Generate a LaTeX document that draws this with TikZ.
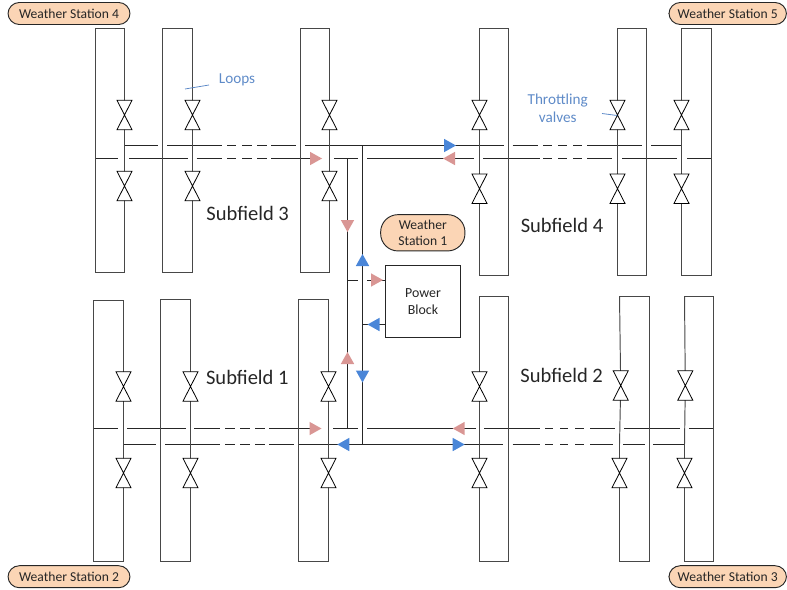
\documentclass[tikz,border=0pt]{standalone}
\usepackage{fontspec}
\setmainfont{Carlito}
\usetikzlibrary{positioning, calc}
\definecolor{hotRed}{HTML}{D99694}
\definecolor{coldBlue}{HTML}{4A86D8}
\definecolor{fPeach}{HTML}{FBD5B5}
\definecolor{noteBlue}{HTML}{5F8BC8}
\definecolor{bdr}{HTML}{262626}
\tikzset{
  pipe/.style={draw=bdr, line width=0.75pt},
  loopbox/.style={draw=bdr!85, line width=0.72pt, line join=miter},
  valve/.style={draw=black, line width=0.6pt, fill=white, line join=miter},
  flowHot/.style={fill=hotRed},
  flowCold/.style={fill=coldBlue},
  station/.style={draw=bdr, line width=0.7pt, fill=fPeach, rounded corners=8.5pt, font=\fontsize{10.2}{12}\selectfont, text=bdr, align=center, inner sep=0pt},
  field/.style={font=\fontsize{15.4}{17}\selectfont, text=bdr, inner sep=0pt},
  note/.style={font=\fontsize{11.4}{13.5}\selectfont, text=noteBlue, align=center, inner sep=0pt},
  leader/.style={draw=noteBlue, line width=0.6pt},
}
\def\yS{145.5}
\def\yR{158.5}
\def\yQ{428.5}
\def\yP{444.5}

\begin{document}
\begin{tikzpicture}[x=0.75pt, y=-0.75pt]
\useasboundingbox (0,0) rectangle (787,589);

% header rows, subfields 3 and 4
\foreach \a/\b in {124.5/158, 167/221.7, 227/236, 242/252, 257/267, 271/296, 305/504, 512.7/538, 543/552, 558/567, 573/582, 587/642, 651/681.7}
  \draw[pipe] (\a,\yS) -- (\b,\yS);
\foreach \a/\b in {95.5/118, 129/187.7, 196.7/221.7, 227/236, 242/252, 257/267, 271/312, 334/358, 367/474, 483/540, 543/552, 558/567, 573/582, 587/612, 622/677, 687/711}
  \draw[pipe] (\a,\yR) -- (\b,\yR);

% header rows, subfields 1 and 2
\foreach \a/\b in {93.5/118, 127/185.7, 194/220, 225/235, 240/250, 255/265, 269/311, 333/358, 367/476, 484/540, 545/553, 560/568, 575/584, 590/615, 624/680, 689/713.5}
  \draw[pipe] (\a,\yQ) -- (\b,\yQ);
\foreach \a/\b in {123.5/156, 165/220, 225/235, 240/250, 255/265, 269/294, 298.5/503, 512.7/540, 545/553, 560/568, 575/584, 590/613, 623/645, 653/684}
  \draw[pipe] (\a,\yP) -- (\b,\yP);

% loops
\foreach \a/\b/\t/\u in {95.5/124.5/28.5/272.5, 162.5/192.5/28.5/272.5, 300.5/329.5/28.5/272.5,
    479.5/508.5/28.5/275.5, 617.5/646.5/28.5/275.5, 681.5/711.5/28.5/275.5,
    93.5/123.5/300.5/561.5, 160.5/190.5/299.5/561.5, 298.5/328.5/299.5/561.5, 479.5/508.5/296.5/561.5}
  \draw[loopbox] (\a,\t) rectangle (\b,\u);
% these two lean a little
\foreach \a/\m/\b in {619.5/620.7/649.5, 684.5/685.3/713.5}
  \draw[loopbox] (\a,296.5) -- (\m,386) -- (\a,444) -- (\a,561.5) -- (\b,561.5) -- (\b,296.5) -- cycle;

% throttling valves
\foreach \x/\y in {124.5/115, 124.5/186, 192.5/115, 192.5/186, 329.5/115, 329.5/186,
    479.5/115, 479.5/188.7, 617.5/115, 617.5/188.7, 681.5/115, 681.5/188.7,
    123.5/386.5, 123.5/473, 190.5/386.5, 190.5/473, 328.5/386.5, 328.5/473,
    479.5/386.5, 479.5/473, 620.7/385.5, 619.5/473, 685.3/385.5, 684.5/473}
  \draw[valve] (\x-7.5,\y-14.7) -- (\x+7.5,\y-14.7) -- (\x-7.5,\y+14.7) -- (\x+7.5,\y+14.7) -- cycle;

% power block and weather stations
\node[draw=bdr, line width=0.75pt, minimum width=75.7*0.75pt, minimum height=72.3*0.75pt, align=center, inner sep=0pt, text=bdr, font=\fontsize{10.4}{12.8}\selectfont] (block) at (423,301.8) {Power\\Block};
\node[station, minimum width=122*0.75pt, minimum height=22*0.75pt] (wsFour) at (69,13.5) {Weather Station 4};
\node[station, minimum width=117.5*0.75pt, minimum height=22*0.75pt] (wsFive) at (727.7,13.5) {Weather Station 5};
\node[station, minimum width=122*0.75pt, minimum height=22*0.75pt] (wsTwo) at (69,576.7) {Weather Station 2};
\node[station, minimum width=117.5*0.75pt, minimum height=22*0.75pt] (wsThree) at (727.7,576.7) {Weather Station 3};
\node[station, minimum width=84.3*0.75pt, minimum height=36.3*0.75pt, rounded corners=13pt] (wsOne) at (422.8,232.8) {Weather\\Station 1};

% trunk lines
\coordinate (retTop) at (347.5,\yR);
\coordinate (retBot) at (347.5,\yQ);
\coordinate (supTop) at (362.5,\yS);
\coordinate (supBot) at (362.5,\yP);
\draw[pipe] (retTop) -- (retBot);
\draw[pipe] (supTop) -- (supBot);
\coordinate (retStub) at (347.5,280);
\coordinate (retStubEnd) at (358,280);
\coordinate (retGap) at (367,280);
\coordinate (supStub) at (362.5,324.5);
\draw[pipe] (retStub) -- (retStubEnd);
\draw[pipe] (retGap) -- (block.west |- retGap);
\draw[pipe] (supStub) -- (block.west |- supStub);

% flow arrows
\foreach \x/\y/\r in {316/\yR/0, 449/\yR/180, 347.5/226/270, 377/280/0, 347.5/358/90, 315.5/\yQ/0, 458.7/\yQ/180}
  \fill[flowHot, shift={(\x,\y)}, rotate=\r] (-6,-6.7) -- (6,0) -- (-6,6.7) -- cycle;
\foreach \x/\y/\r in {450/\yS/0, 362.5/260/90, 373.5/324.5/180, 362.5/376.5/270, 343.3/\yP/180, 458.7/\yP/0}
  \fill[flowCold, shift={(\x,\y)}, rotate=\r] (-6,-6.7) -- (6,0) -- (-6,6.7) -- cycle;

% labels
\node[field] (sfThree) at (247.7,213) {Subfield 3};
\node[field] (sfFour) at (562,225) {Subfield 4};
\node[field] (sfOne) at (247.3,377.7) {Subfield 1};
\node[field] (sfTwo) at (561.7,375.7) {Subfield 2};
\node[note] (lbLoops) at (237,80) {Loops};
\node[note] (lbValves) at (557.7,108) {Throttling\\valves};
\coordinate (loopsTip) at (185,89);
\coordinate (loopsTail) at (209,85);
\coordinate (valvesTip) at (617,115.5);
\coordinate (valvesTail) at (602,113.5);
\draw[leader] (loopsTail) -- (loopsTip);
\draw[leader] (valvesTail) -- (valvesTip);

\end{tikzpicture}
\end{document}
